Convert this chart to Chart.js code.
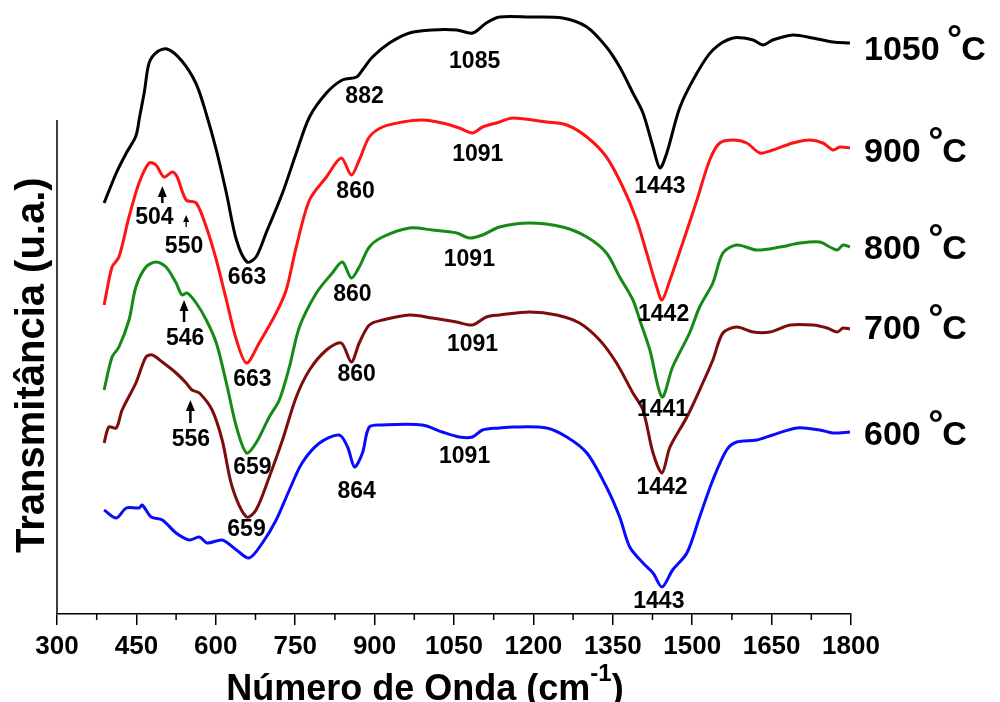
<!DOCTYPE html>
<html>
<head>
<meta charset="utf-8">
<script src="https://cdn.jsdelivr.net/npm/chart.js@4.4.1/dist/chart.umd.min.js"></script>
<style>
  html, body { margin: 0; padding: 0; background: #fff; }
  #wrap { width: 1000px; height: 702px; }
</style>
</head>
<body>
<div id="wrap"><canvas id="ftir" width="1000" height="702"></canvas></div>
<script>
// FTIR spectra, transmittance offset per calcination temperature (u.a.)
const wn1050 = [389,412,431,449,456,465,474,489,508,536,563,582,601,620,639,659,676,695,726,752,777,809,839,866,877,896,928,966,1009,1055,1085,1111,1136,1193,1255,1301,1338,1363,1388,1407,1426,1439,1452,1477,1509,1539,1577,1615,1634,1652,1690,1728,1766,1798];
const t1050 = [411,441,461,478,497,522,551,562,565,553,530,500,464,421,374,352,357,381,421,461,497,521,534,537,544,557,571,581,584,584,581,591,597,597,596,587,567,547,521,501,467,446,461,507,541,564,576,574,569,574,579,576,572,571];

const wn900 = [389,404,417,436,455,474,487,502,518,527,544,563,582,601,620,639,658,682,714,733,752,777,809,837,856,871,890,915,953,990,1028,1060,1085,1104,1136,1161,1225,1263,1301,1338,1369,1395,1414,1433,1443,1458,1482,1509,1533,1552,1577,1603,1628,1652,1690,1722,1747,1766,1779,1798];
const t900 = [309,347,357,397,431,451,449,437,442,437,414,411,387,354,314,274,251,271,301,324,367,414,437,456,439,454,477,487,492,494,491,486,481,487,492,496,492,489,477,457,427,394,361,327,314,334,371,414,454,471,474,471,461,464,471,474,471,464,467,466];

const wn800 = [389,404,417,436,449,468,487,506,525,536,546,563,582,601,620,639,658,676,701,720,739,758,790,820,839,856,871,890,915,966,1009,1055,1079,1104,1136,1193,1255,1301,1338,1363,1388,1401,1420,1443,1463,1495,1514,1539,1558,1584,1622,1666,1704,1741,1760,1774,1785,1798];
const t800 = [224,257,267,294,327,347,352,347,331,319,321,311,294,271,231,187,161,171,197,214,247,287,321,341,352,336,347,367,377,386,384,381,376,379,387,391,387,377,361,337,314,294,264,217,247,281,307,331,361,369,364,367,371,372,367,364,369,367];

const wn700 = [389,398,412,423,449,468,480,499,525,544,555,569,593,612,631,658,676,701,726,752,777,809,837,856,871,890,915,966,1009,1055,1085,1111,1136,1193,1244,1287,1325,1357,1388,1407,1426,1443,1458,1490,1520,1539,1558,1584,1615,1647,1685,1728,1755,1774,1785,1798];
const t700 = [171,187,186,204,231,257,259,252,241,231,224,221,204,174,127,97,104,137,174,217,244,264,271,252,271,289,294,299,296,292,289,297,299,302,299,291,274,251,221,204,161,141,167,197,231,254,281,287,282,282,289,289,286,282,286,285];

const wn600 = [389,412,431,455,461,478,499,525,550,569,584,612,639,663,688,714,739,763,796,833,849,862,877,890,915,990,1028,1060,1085,1104,1136,1161,1225,1263,1301,1338,1363,1382,1407,1426,1443,1463,1490,1514,1539,1565,1584,1622,1652,1698,1741,1766,1798];
const t600 = [104,96,106,106,109,97,94,81,74,77,71,74,64,56,71,94,124,151,171,179,167,147,161,187,189,189,182,177,177,184,186,187,186,177,161,127,97,67,51,41,27,44,61,97,134,164,172,174,179,186,184,181,182];

// series labels at the right side
const seriesNames = ['1050', '900', '800', '700', '600'];
const seriesLabelY = [566, 464, 367, 287, 181];

// peak labels: text, wavenumber, transmittance
const peakText = ['1085','882','663','504','550','860','1091','1443','546','663','860','1091','1442','556','659','860','1091','1441','659','864','1091','1442','1443'];
const peakX    = [1089, 881, 659, 484, 540, 864,1095,1439, 542, 669, 858,1079,1446, 553, 669, 866,1085,1444, 658, 866,1070,1443,1437];
const peakY    = [ 552, 517, 336, 396, 367, 422, 459, 427, 275, 234, 319, 354, 299, 174, 146, 239, 269, 204,  84, 122, 157, 126,  12];

// arrows: wavenumber, tail, tip, heavy
const arrowX    = [499, 544, 540, 552];
const arrowTail = [411, 387, 292, 191];
const arrowTip  = [428, 399, 314, 214];
const arrowBold = [true, false, true, true];

const minorTicks = [375, 525, 675, 825, 975, 1125, 1275, 1425, 1575, 1725];
const axisTop = 494;

const FONT = '"Liberation Sans", Arial, Helvetica, sans-serif';
Chart.defaults.font.family = FONT;

function pts(xs, ys) {
  return xs.map((x, i) => ({ x: x, y: ys[i] }));
}

const colors = ['#000000', '#ff1414', '#158a15', '#7d0c0c', '#0a0aff'];
const series = [[wn1050, t1050], [wn900, t900], [wn800, t800], [wn700, t700], [wn600, t600]];

const decor = {
  id: 'decor',
  afterDraw(chart) {
    const { ctx, chartArea, scales: { x, y } } = chart;
    ctx.save();
    ctx.strokeStyle = '#000';
    ctx.fillStyle = '#000';

    // left axis line (short)
    const x0 = x.getPixelForValue(300);
    ctx.lineWidth = 1.5;
    ctx.beginPath();
    ctx.moveTo(x0, y.getPixelForValue(axisTop));
    ctx.lineTo(x0, chartArea.bottom);
    ctx.stroke();

    // minor ticks
    minorTicks.forEach((v) => {
      const px = x.getPixelForValue(v);
      ctx.beginPath();
      ctx.moveTo(px, chartArea.bottom);
      ctx.lineTo(px, chartArea.bottom + 6);
      ctx.stroke();
    });

    // peak labels
    ctx.font = 'bold 23px ' + FONT;
    ctx.textAlign = 'center';
    ctx.textBaseline = 'middle';
    peakText.forEach((t, i) => {
      ctx.fillText(t, x.getPixelForValue(peakX[i]), y.getPixelForValue(peakY[i]));
    });

    // arrows
    arrowX.forEach((v, i) => {
      const px = x.getPixelForValue(v);
      const y0 = y.getPixelForValue(arrowTail[i]);
      const y1 = y.getPixelForValue(arrowTip[i]);
      const bold = arrowBold[i];
      const hw = bold ? 4.5 : 3;
      const hl = bold ? 11 : 7;
      ctx.lineWidth = bold ? 2.5 : 1.3;
      ctx.beginPath();
      ctx.moveTo(px, y0);
      ctx.lineTo(px, y1 + hl - 1);
      ctx.stroke();
      ctx.beginPath();
      ctx.moveTo(px, y1);
      ctx.lineTo(px - hw, y1 + hl);
      ctx.lineTo(px + hw, y1 + hl);
      ctx.closePath();
      ctx.fill();
    });

    // series labels
    ctx.textAlign = 'left';
    ctx.textBaseline = 'alphabetic';
    seriesNames.forEach((name, i) => {
      const cy = y.getPixelForValue(seriesLabelY[i]);
      const base = cy + 12;
      let lx = chartArea.right + 13;
      ctx.font = 'bold 34px ' + FONT;
      const head = name + ' ';
      ctx.fillText(head, lx, base);
      lx += ctx.measureText(head).width;
      ctx.font = 'bold 38px ' + FONT;
      ctx.fillText('°', lx - 2, base - 8);
      lx += ctx.measureText('°').width - 3;
      ctx.font = 'bold 34px ' + FONT;
      ctx.fillText('C', lx, base);
    });

    // x title with superscript
    const main = 'Número de Onda (cm';
    ctx.font = 'bold 36px ' + FONT;
    const wMain = ctx.measureText(main).width;
    const wClose = ctx.measureText(')').width;
    ctx.font = 'bold 24px ' + FONT;
    const wSup = ctx.measureText('-1').width;
    let tx = 425 - (wMain + wSup + wClose) / 2;
    ctx.font = 'bold 36px ' + FONT;
    ctx.fillText(main, tx, 700);
    tx += wMain;
    ctx.font = 'bold 24px ' + FONT;
    ctx.fillText('-1', tx, 681);
    tx += wSup;
    ctx.font = 'bold 36px ' + FONT;
    ctx.fillText(')', tx, 700);

    // y title
    ctx.font = 'bold 40px ' + FONT;
    ctx.translate(44, 553);
    ctx.rotate(-Math.PI / 2);
    ctx.fillText('Transmitância (u.a.)', 0, 0);
    ctx.restore();
  }
};

new Chart(document.getElementById('ftir'), {
  type: 'line',
  data: {
    datasets: series.map((s, i) => ({
      label: seriesNames[i] + ' °C',
      data: pts(s[0], s[1]),
      borderColor: colors[i],
      borderWidth: 3,
      pointRadius: 0,
      fill: false,
      tension: 0.3,
    })),
  },
  options: {
    responsive: false,
    animation: false,
    devicePixelRatio: 1,
    layout: { padding: { left: 57, right: 149, top: 5, bottom: 0 } },
    plugins: { legend: { display: false }, tooltip: { enabled: false } },
    scales: {
      x: {
        type: 'linear',
        min: 300,
        max: 1800,
        afterFit: (s) => { s.height = 88; },
        ticks: {
          stepSize: 150,
          color: '#000',
          padding: 6,
          maxRotation: 0,
          autoSkip: false,
          font: { size: 26, weight: 'bold' },
          callback: (v) => String(v),
        },
        grid: { drawOnChartArea: false, drawTicks: true, tickLength: 11, color: '#000', lineWidth: 1.5 },
        border: { display: true, color: '#000', width: 1.5 },
      },
      y: {
        display: false,
        min: 0,
        max: 609,
      },
    },
  },
  plugins: [decor],
});
</script>
</body>
</html>
